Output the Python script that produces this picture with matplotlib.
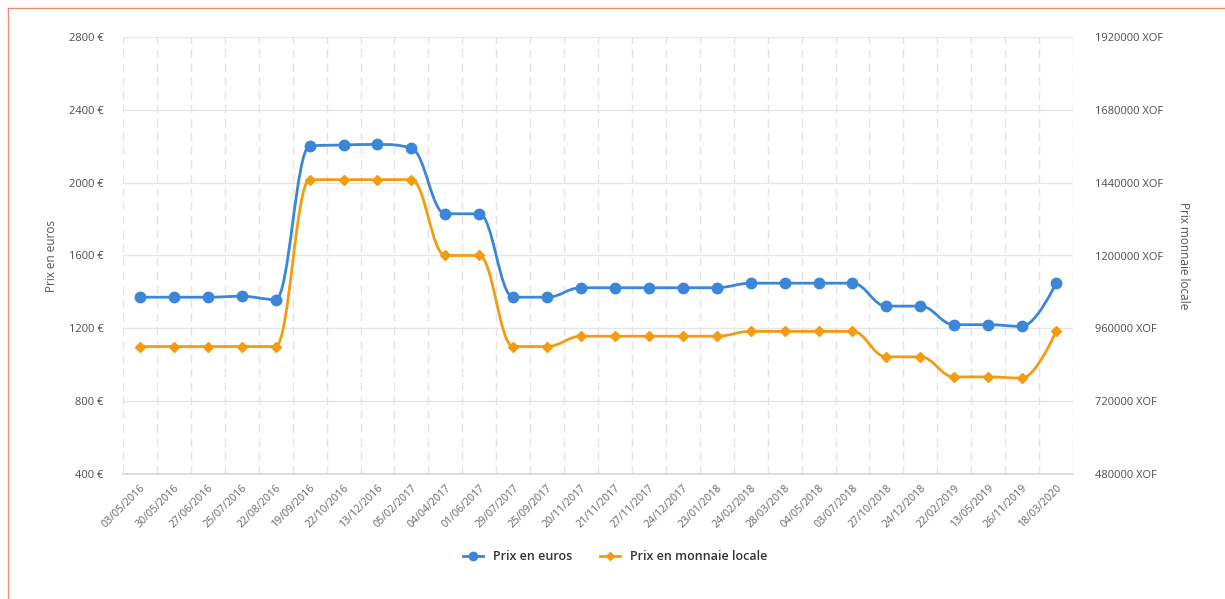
import numpy as np
import matplotlib
matplotlib.use("Agg")
import matplotlib.pyplot as plt
from matplotlib.path import Path
from matplotlib.patches import PathPatch
from matplotlib.lines import Line2D

plt.rcParams['font.family'] = ['Open Sans', 'DejaVu Sans']

dates = ['03/05/2016', '30/05/2016', '27/06/2016', '25/07/2016', '22/08/2016',
         '19/09/2016', '22/10/2016', '13/12/2016', '05/02/2017', '04/04/2017',
         '01/06/2017', '29/07/2017', '25/09/2017', '20/11/2017', '21/11/2017',
         '27/11/2017', '24/12/2017', '23/01/2018', '24/02/2018', '28/03/2018',
         '04/05/2018', '03/07/2018', '27/10/2018', '24/12/2018', '22/02/2019',
         '13/05/2019', '26/11/2019', '18/03/2020']
prix_euros = [1371, 1371, 1371, 1376, 1358, 2201, 2207, 2210, 2190, 1829,
              1829, 1371, 1371, 1423, 1423, 1423, 1423, 1423, 1448, 1448,
              1448, 1448, 1322, 1322, 1220, 1220, 1211, 1448]
prix_xof = [900000, 900000, 900000, 900000, 900000, 1450000, 1450000, 1450000,
            1450000, 1200000, 1200000, 900000, 900000, 934000, 934000, 934000,
            934000, 934000, 950000, 950000, 950000, 950000, 866000, 866000,
            800000, 800000, 796000, 950000]

euro_ticks = [400, 800, 1200, 1600, 2000, 2400, 2800]
xof_ticks = [480000, 720000, 960000, 1200000, 1440000, 1680000, 1920000]

blue = '#3b86d9'
orange = '#f39c12'


def spline_path(xs, ys):
    # Highcharts-like spline (smoothing 1.5)
    sm, den = 1.5, 2.5
    n = len(xs)
    lc, rc = [], []
    for i in range(n):
        x, y = xs[i], ys[i]
        if i == 0 or i == n - 1:
            lc.append((x, y)); rc.append((x, y)); continue
        lx, ly = xs[i - 1], ys[i - 1]
        nx, ny = xs[i + 1], ys[i + 1]
        lcx = (sm * x + lx) / den
        lcy = (sm * y + ly) / den
        rcx = (sm * x + nx) / den
        rcy = (sm * y + ny) / den
        if rcx != lcx:
            corr = (rcy - lcy) * (rcx - x) / (rcx - lcx) + y - rcy
            lcy += corr
            rcy += corr
        if lcy > max(ly, y):
            lcy = max(ly, y); rcy = 2 * y - lcy
        elif lcy < min(ly, y):
            lcy = min(ly, y); rcy = 2 * y - lcy
        if rcy > max(y, ny):
            rcy = max(y, ny); lcy = 2 * y - rcy
        elif rcy < min(y, ny):
            rcy = min(y, ny); lcy = 2 * y - rcy
        lc.append((lcx, lcy)); rc.append((rcx, rcy))
    verts = [(xs[0], ys[0])]
    codes = [Path.MOVETO]
    for i in range(1, n):
        verts += [rc[i - 1], lc[i], (xs[i], ys[i])]
        codes += [Path.CURVE4] * 3
    return Path(verts, codes)


fig = plt.figure(figsize=(12.25, 5.99), dpi=100)
ax = fig.add_axes([123 / 1225, 1 - 474 / 599, 950 / 1225, 437 / 599])
ax2 = ax.twinx()

x = np.arange(len(dates))

ax.set_xlim(-0.5, len(dates) - 0.5)
ax.set_ylim(400, 2800)
ax2.set_ylim(480000, 1920000)

ax.set_yticks(euro_ticks)
ax.set_yticklabels([f'{v} €' for v in euro_ticks])
ax2.set_yticks(xof_ticks)
ax2.set_yticklabels([f'{v} XOF' for v in xof_ticks])

ax.set_xticks(x)
ax.set_xticklabels(dates, rotation=45, ha='right', rotation_mode='anchor',
                   fontsize=7.7, color='#666666')
ax.tick_params(axis='x', length=0, pad=6)
ax.tick_params(axis='y', length=0, pad=14, labelsize=8, labelcolor='#4d4d4d')
ax2.tick_params(axis='y', length=0, pad=16, labelsize=8, labelcolor='#4d4d4d')

# grid
for v in euro_ticks[1:]:
    ax.axhline(v, color='#e6e6e6', lw=1, zorder=0)
for b in np.arange(-0.5, len(dates), 1.0):
    ax.axvline(b, color='#e3e3e3', lw=1, ls=(0, (6, 4)), zorder=0)

for a in (ax, ax2):
    for s in a.spines.values():
        s.set_visible(False)
ax.spines['bottom'].set_visible(True)
ax.spines['bottom'].set_color('#ccd6eb')
ax.spines['bottom'].set_linewidth(1.2)

ax.set_ylabel('Prix en euros', color='#555555', fontsize=8.5, labelpad=8)
ax2.set_ylabel('Prix monnaie locale', color='#555555', fontsize=8.5,
               rotation=270, labelpad=19)

# series
ax.add_patch(PathPatch(spline_path(x, prix_euros), fill=False,
                       edgecolor=blue, lw=2, zorder=3))
ax.plot(x, prix_euros, ls='none', marker='o', ms=7.5, color=blue, zorder=4)
ax2.add_patch(PathPatch(spline_path(x, prix_xof), fill=False,
                        edgecolor=orange, lw=2, zorder=3))
ax2.plot(x, prix_xof, ls='none', marker='D', ms=5, color=orange, zorder=4)

# legend
h1 = Line2D([], [], color=blue, lw=2, marker='o', ms=6)
h2 = Line2D([], [], color=orange, lw=2, marker='D', ms=4)
leg = fig.legend([h1, h2], ['Prix en euros', 'Prix en monnaie locale'],
                 loc='center', bbox_to_anchor=(615 / 1225, 1 - 557 / 599),
                 ncol=2, frameon=False, handlelength=1.6, columnspacing=2.2,
                 prop={'size': 9, 'weight': 'semibold'})
for t in leg.get_texts():
    t.set_color('#333333')

# outer border
fig.add_artist(Line2D([8 / 1225, 8 / 1225], [0, 1 - 8 / 599],
                      transform=fig.transFigure, color='#f4876c', lw=1))
fig.add_artist(Line2D([8 / 1225, 1], [1 - 8 / 599, 1 - 8 / 599],
                      transform=fig.transFigure, color='#f4876c', lw=1))

fig.savefig('out.png', dpi=100)
